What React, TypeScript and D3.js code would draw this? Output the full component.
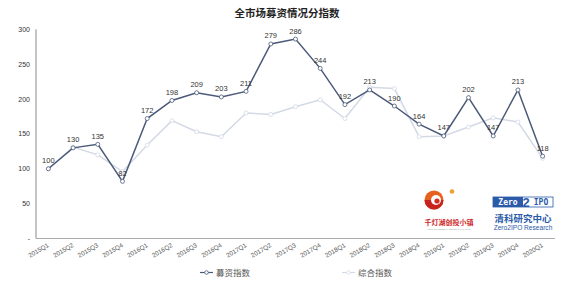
import React from "react";
import * as d3 from "d3";

const categories = [
  "2015Q1","2015Q2","2015Q3","2015Q4","2016Q1","2016Q2","2016Q3","2016Q4",
  "2017Q1","2017Q2","2017Q3","2017Q4","2018Q1","2018Q2","2018Q3","2018Q4",
  "2019Q1","2019Q2","2019Q3","2019Q4","2020Q1",
];
const fundraisingIndex = [100,130,135,82,172,198,209,203,211,279,286,244,192,213,190,164,147,202,147,213,118];
const compositeIndex = [100,131,120,96,134,169,153,146,180,178,189,199,172,217,215,146,147,160,173,167,115];
const yTicks = [0, 50, 100, 150, 200, 250, 300];
const yTickLabels = ["-", "50", "100", "150", "200", "250", "300"];
const seriesNames = ["募资指数", "综合指数"];

const W = 580, H = 287;
const DARK = "#4b5a78";
const LIGHT = "#d3d9e5";

export default function App() {
  const x = d3.scaleBand<string>().domain(categories).range([36, 555]).padding(0);
  const y = d3.scaleLinear().domain([0, 300]).range([238.5, 29.3]);
  const cx = (c: string) => (x(c) as number) + x.bandwidth() / 2;
  const line = d3.line<number>().x((_, i) => cx(categories[i])).y((d) => y(d));

  const sans = "'Liberation Sans', Arial, sans-serif";
  const cjk = "'Noto Sans CJK SC', sans-serif";

  return (
    <div style={{ position: "absolute", left: 0, top: 0 }}>
      <svg width={W} height={H} style={{ display: "block", background: "#fff" }}>
        <text x={287} y={17} textAnchor="middle" fontFamily={cjk} fontWeight={700} fontSize={10.5} fill="#222">
          全市场募资情况分指数
        </text>

        {/* axes */}
        <line x1={36} x2={36} y1={y(300)} y2={y(0)} stroke="#8a8a8a" strokeWidth={1} />
        <line x1={36} x2={555} y1={y(0)} y2={y(0)} stroke="#aaaaaa" strokeWidth={1} />
        {yTicks.map((t, i) => (
          <text key={t} x={30} y={y(t) + 2.5} textAnchor="end" fontFamily={sans} fontSize={7} fill="#333">
            {yTickLabels[i]}
          </text>
        ))}
        {categories.map((c) => (
          <text
            key={c}
            transform={`translate(${cx(c) + 1},${y(0) + 8}) rotate(-30)`}
            textAnchor="end"
            fontFamily={sans}
            fontSize={6.3}
            fill="#555"
          >
            {c}
          </text>
        ))}

        {/* composite line */}
        <path d={line(compositeIndex) || ""} fill="none" stroke={LIGHT} strokeWidth={1.5} />
        {compositeIndex.map((v, i) => (
          <circle key={"c" + i} cx={cx(categories[i])} cy={y(v)} r={2} fill="#fff" stroke={LIGHT} strokeWidth={0.8} />
        ))}

        {/* fundraising line */}
        <path d={line(fundraisingIndex) || ""} fill="none" stroke={DARK} strokeWidth={1.5} />
        {fundraisingIndex.map((v, i) => (
          <circle key={"f" + i} cx={cx(categories[i])} cy={y(v)} r={2} fill="#fff" stroke={DARK} strokeWidth={0.8} />
        ))}
        {fundraisingIndex.map((v, i) => (
          <text key={"l" + i} x={cx(categories[i])} y={y(v) - 5.5} textAnchor="middle" fontFamily={sans} fontSize={7.5} fill="#333">
            {v}
          </text>
        ))}

        {/* logos */}
        <g>
          <circle cx={434} cy={200} r={9.5} fill="#e8601e" />
          <path d="M 424.5 200 A 9.5 9.5 0 0 0 443.5 200 Z" fill="#c8241e" />
          <circle cx={436} cy={200} r={5} fill="#fff" />
          <circle cx={437} cy={201} r={2.6} fill="#d03020" />
          <circle cx={452} cy={191.5} r={2.3} fill="#f0a030" />
          <text x={449} y={225} textAnchor="middle" fontFamily={cjk} fontWeight={700} fontSize={7} fill="#d0282a">
            千灯湖创投小镇
          </text>
          <text x={449} y={230} textAnchor="middle" fontFamily={sans} fontSize={1.8} fill="#999">
            FOSHAN QIANDENGHU VENTURE CAPITAL TOWN
          </text>
        </g>
        <g>
          <rect x={493} y={197} width={60} height={10} fill="#fff" stroke="#2a5aa8" strokeWidth={0.8} />
          <rect x={493} y={197} width={30} height={10} fill="#2a5aa8" />
          <text x={508} y={205} textAnchor="middle" fontFamily="'DejaVu Sans Mono', monospace" fontWeight={700} fontSize={8} fill="#fff">
            Zero
          </text>
          <text x={526} y={207} textAnchor="middle" fontFamily={sans} fontWeight={700} fontSize={13} fill="#2a5aa8">
            2
          </text>
          <text x={541} y={205} textAnchor="middle" fontFamily="'DejaVu Sans Mono', monospace" fontWeight={700} fontSize={8} fill="#2a5aa8">
            IPO
          </text>
          <text x={523} y={222} textAnchor="middle" fontFamily={cjk} fontWeight={700} fontSize={9.5} fill="#2a5aa8">
            清科研究中心
          </text>
          <text x={523} y={230} textAnchor="middle" fontFamily={sans} fontSize={6.6} fill="#2a5aa8">
            Zero2IPO Research
          </text>
        </g>

        {/* legend */}
        <g>
          <line x1={200} x2={213} y1={272.5} y2={272.5} stroke={DARK} strokeWidth={1.2} />
          <circle cx={206.5} cy={272.5} r={1.8} fill="#fff" stroke={DARK} strokeWidth={0.8} />
          <text x={216} y={275.5} fontFamily={cjk} fontSize={8.5} fill="#555">{seriesNames[0]}</text>
          <line x1={342} x2={355} y1={272.5} y2={272.5} stroke={LIGHT} strokeWidth={1.2} />
          <circle cx={348.5} cy={272.5} r={1.8} fill="#fff" stroke={LIGHT} strokeWidth={0.8} />
          <text x={358} y={275.5} fontFamily={cjk} fontSize={8.5} fill="#555">{seriesNames[1]}</text>
        </g>
      </svg>
    </div>
  );
}
